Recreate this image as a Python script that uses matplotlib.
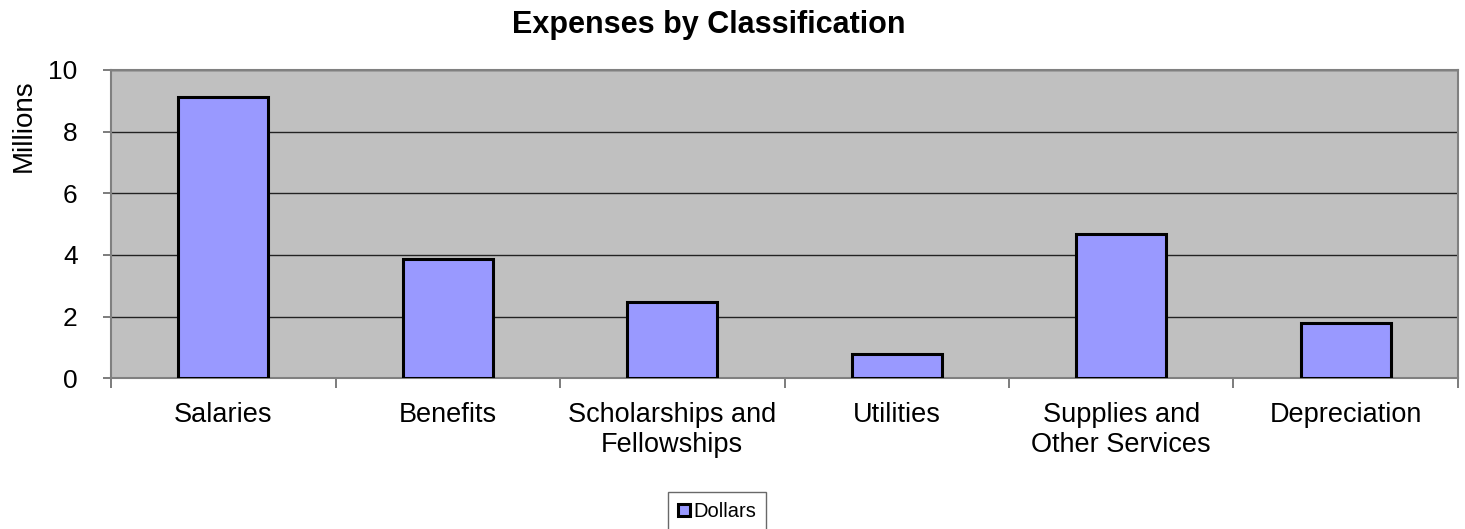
import matplotlib
matplotlib.use("Agg")
import matplotlib.pyplot as plt
import numpy as np

categories = ["Salaries", "Benefits", "Scholarships and\nFellowships", "Utilities",
              "Supplies and\nOther Services", "Depreciation"]
values = [9.13, 3.87, 2.46, 0.78, 4.68, 1.80]
yticks = [0, 2, 4, 6, 8, 10]

plt.rcParams['font.family'] = ['Liberation Sans', 'DejaVu Sans']

fig = plt.figure(figsize=(14.65, 5.29), dpi=100)
ax = fig.add_axes([0.0758, 0.2849, 0.9194, 0.5828])
ax.set_facecolor("#c0c0c0")

x = np.arange(len(categories))
ax.bar(x, values, width=0.4, color="#9999ff", edgecolor="black", linewidth=2.2,
       label="Dollars", zorder=3)

ax.set_xlim(-0.5, len(categories) - 0.5)
ax.set_ylim(0, 10)
ax.set_yticks(yticks)
ax.set_yticklabels([str(t) for t in yticks], fontsize=19)
ax.yaxis.grid(True, color="#222222", linewidth=1.0, zorder=1)
ax.set_axisbelow(True)

ax.set_xticks(x)
ax.set_xticklabels(categories, fontsize=19.5, linespacing=1.22)
ax.tick_params(axis='x', length=0, pad=17)
ax.set_xticks(np.arange(len(categories) + 1) - 0.5, minor=True)
ax.tick_params(axis='x', which='minor', length=7, color="#666666", width=1.2, direction='out')
ax.tick_params(axis='y', length=6, color="#666666", width=1.2, direction='out', pad=18)

for s in ax.spines.values():
    s.set_color("#808080")
    s.set_linewidth(1.5)

ax.set_ylabel("Millions", fontsize=20)
ax.yaxis.set_label_coords(-0.0555, 0.82)
fig.text(0.484, 1 - 33 / 529, "Expenses by Classification", fontsize=22,
         fontweight='bold', ha='center', va='baseline')

leg = ax.legend(loc='upper center', bbox_to_anchor=(0.45, -0.369), ncol=1, fontsize=14.5,
                frameon=True, fancybox=False, edgecolor="#444444", handlelength=0.6,
                handleheight=0.6, handletextpad=0.15, borderpad=0.5, borderaxespad=0)
leg.get_frame().set_linewidth(1.0)

fig.savefig("out.png", dpi=100)
